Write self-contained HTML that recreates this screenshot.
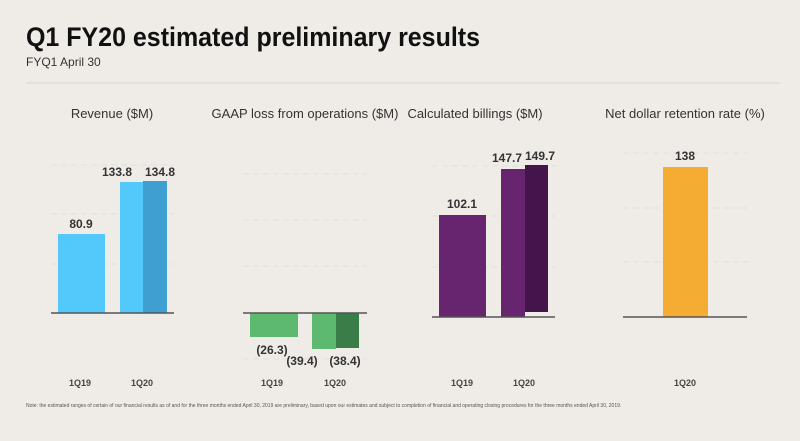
<!DOCTYPE html>
<html><head><style>
body{margin:0;background:#efece7;}
svg{display:block;font-family:"Liberation Sans",sans-serif;}
</style></head><body>
<svg width="800" height="441" viewBox="0 0 800 441">
<rect width="800" height="441" fill="#efece7"/>
<text x="26" y="46" font-size="27" font-weight="bold" fill="#111" textLength="454" lengthAdjust="spacingAndGlyphs">Q1 FY20 estimated preliminary results</text>
<text x="26" y="66" font-size="12" fill="#333">FYQ1 April 30</text>
<line x1="26" y1="83" x2="780" y2="83" stroke="#d6d3ce" stroke-width="1"/>
<g font-size="13" fill="#333" text-anchor="middle">
<text x="112" y="118">Revenue ($M)</text>
<text x="305" y="118">GAAP loss from operations ($M)</text>
<text x="475" y="118">Calculated billings ($M)</text>
<text x="685" y="118">Net dollar retention rate (%)</text>
</g>
<g stroke="#e2dfda" stroke-dasharray="6,4" stroke-width="1">
<line x1="51" y1="165" x2="174" y2="165"/><line x1="51" y1="214" x2="174" y2="214"/><line x1="51" y1="264" x2="174" y2="264"/>
<line x1="243" y1="174" x2="367" y2="174"/><line x1="243" y1="220" x2="367" y2="220"/><line x1="243" y1="266" x2="367" y2="266"/><line x1="243" y1="359" x2="367" y2="359"/>
<line x1="432" y1="166" x2="555" y2="166"/><line x1="432" y1="216" x2="555" y2="216"/><line x1="432" y1="267" x2="555" y2="267"/>
<line x1="623" y1="153" x2="747" y2="153"/><line x1="623" y1="208" x2="747" y2="208"/><line x1="623" y1="262" x2="747" y2="262"/>
</g>
<rect x="58" y="234" width="47" height="79" fill="#53c8fb"/>
<rect x="120" y="182" width="24" height="131" fill="#53c8fb"/>
<rect x="143" y="181" width="24" height="132" fill="#3f9fd0"/>
<line x1="51" y1="313" x2="174" y2="313" stroke="#555" stroke-width="1.5"/>
<rect x="250" y="313" width="48" height="24" fill="#5db96f"/>
<rect x="312" y="313" width="24" height="36" fill="#5db96f"/>
<rect x="336" y="313" width="23" height="35" fill="#3a7d48"/>
<line x1="243" y1="313" x2="367" y2="313" stroke="#555" stroke-width="1.5"/>
<rect x="439" y="215" width="47" height="102" fill="#67256f"/>
<rect x="501" y="169" width="24" height="148" fill="#67256f"/>
<rect x="525" y="165" width="23" height="147" fill="#44154a"/>
<line x1="432" y1="317" x2="555" y2="317" stroke="#555" stroke-width="1.5"/>
<rect x="663" y="167" width="45" height="150" fill="#f4ad32"/>
<line x1="623" y1="317" x2="747" y2="317" stroke="#555" stroke-width="1.5"/>
<g font-size="12" font-weight="bold" fill="#333" text-anchor="middle">
<text x="81" y="228">80.9</text>
<text x="117" y="176">133.8</text>
<text x="160" y="176">134.8</text>
<text x="272" y="354">(26.3)</text>
<text x="302" y="365">(39.4)</text>
<text x="345" y="365">(38.4)</text>
<text x="462" y="208">102.1</text>
<text x="507" y="162">147.7</text>
<text x="540" y="160">149.7</text>
<text x="685" y="160">138</text>
</g>
<g font-size="9" font-weight="bold" fill="#444" text-anchor="middle">
<text x="80" y="386">1Q19</text><text x="142" y="386">1Q20</text>
<text x="272" y="386">1Q19</text><text x="335" y="386">1Q20</text>
<text x="462" y="386">1Q19</text><text x="524" y="386">1Q20</text>
<text x="685" y="386">1Q20</text>
</g>
<text x="26" y="407" font-size="5" fill="#555">Note: the estimated ranges of certain of our financial results as of and for the three months ended April 30, 2019 are preliminary, based upon our estimates and subject to completion of financial and operating closing procedures for the three months ended April 30, 2019.</text>
</svg>
</body></html>
